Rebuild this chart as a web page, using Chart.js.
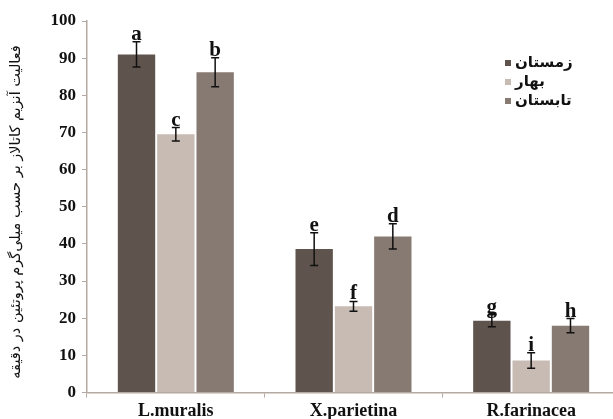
<!DOCTYPE html>
<html>
<head>
<meta charset="utf-8">
<script src="https://cdn.jsdelivr.net/npm/chart.js@4.4.1/dist/chart.umd.min.js"></script>
<style>
  html, body { margin: 0; padding: 0; background: #fff; overflow: hidden; }
  #wrap { width: 620px; height: 419px; position: relative; }
</style>
</head>
<body>
<div id="wrap"><canvas id="c"></canvas></div>
<script>
// species (x axis)
var species = ['L.muralis', 'X.parietina', 'R.farinacea'];
// seasons (legend)
var seasons = ['زمستان', 'بهار', 'تابستان'];
// catalase activity per season
var winter = [91, 38.6, 19.3];
var spring = [69.5, 23.2, 8.6];
var summer = [86.2, 42, 18];
// error bars (+/-)
var errWinter = [3.4, 4.4, 1.6];
var errSpring = [1.8, 1.3, 2.1];
var errSummer = [3.9, 3.4, 1.9];
// significance letters
var lettersWinter = ['a', 'e', 'g'];
var lettersSpring = ['c', 'f', 'i'];
var lettersSummer = ['b', 'd', 'h'];
var yTicks = [0, 10, 20, 30, 40, 50, 60, 70, 80, 90, 100];
var yTitle = 'فعالیت آنزیم کاتالاز بر حسب میلی‌گرم پروتئین در دقیقه';

var colors = ['#5e534d', '#c7bbb4', '#877a72'];
var axisColor = '#b5a9a1';
var errs = [errWinter, errSpring, errSummer];
var letters = [lettersWinter, lettersSpring, lettersSummer];

var extras = {
  id: 'extras',
  afterDatasetsDraw: function(chart) {
    var ctx = chart.ctx;
    var y = chart.scales.y;
    ctx.save();
    chart.data.datasets.forEach(function(ds, i) {
      var meta = chart.getDatasetMeta(i);
      meta.data.forEach(function(bar, j) {
        var v = ds.data[j], e = errs[i][j];
        var top = y.getPixelForValue(v + e), bot = y.getPixelForValue(v - e);
        ctx.strokeStyle = '#111';
        ctx.lineWidth = 1.5;
        ctx.beginPath();
        ctx.moveTo(bar.x, top); ctx.lineTo(bar.x, bot);
        ctx.moveTo(bar.x - 4, top); ctx.lineTo(bar.x + 4, top);
        ctx.moveTo(bar.x - 4, bot); ctx.lineTo(bar.x + 4, bot);
        ctx.stroke();
        ctx.fillStyle = '#111';
        ctx.font = 'bold 21px "Liberation Serif"';
        ctx.textAlign = 'center';
        ctx.textBaseline = 'alphabetic';
        ctx.fillText(letters[i][j], bar.x, top - 2);
      });
    });
    // legend
    ctx.font = 'bold 15px "DejaVu Sans"';
    ctx.textBaseline = 'middle';
    var ly = [63, 82, 101];
    seasons.forEach(function(s, i) {
      ctx.fillStyle = colors[i];
      ctx.fillRect(505, ly[i] - 3, 6, 6);
      ctx.fillStyle = '#111';
      ctx.direction = 'rtl';
      ctx.textAlign = 'right';
      var w = ctx.measureText(s).width;
      ctx.fillText(s, 515 + w, ly[i]);
    });
    // y title
    ctx.direction = 'rtl';
    ctx.translate(16, 212);
    ctx.rotate(-Math.PI / 2);
    ctx.font = '14.5px "DejaVu Sans"';
    ctx.textAlign = 'center';
    ctx.fillText(yTitle, 0, 0);
    ctx.restore();
  }
};

new Chart(document.getElementById('c'), {
  type: 'bar',
  data: {
    labels: species,
    datasets: [
      { label: seasons[0], data: winter, backgroundColor: colors[0] },
      { label: seasons[1], data: spring, backgroundColor: colors[1] },
      { label: seasons[2], data: summer, backgroundColor: colors[2] }
    ]
  },
  options: {
    responsive: true,
    maintainAspectRatio: false,
    animation: false,
    layout: { padding: { top: 21, left: 0, right: 0, bottom: 0 } },
    datasets: { bar: { categoryPercentage: 0.664, barPercentage: 0.95 } },
    plugins: { legend: { display: false }, tooltip: { enabled: false } },
    scales: {
      x: {
        grid: { drawOnChartArea: false, color: axisColor, tickLength: 5, offset: true },
        border: { color: axisColor, width: 1.5 },
        ticks: { color: '#111', font: { family: 'Liberation Serif', size: 18, weight: 'bold' }, padding: 3 },
        afterFit: function(s) { s.height = 26.5; }
      },
      y: {
        min: 0, max: 100,
        afterBuildTicks: function(s) { s.ticks = yTicks.map(function(v) { return { value: v }; }); },
        grid: { drawOnChartArea: false, color: axisColor, tickLength: 5 },
        border: { color: axisColor, width: 1.5 },
        ticks: { color: '#111', font: { family: 'Liberation Serif', size: 17, weight: 'bold' }, padding: 6 },
        afterFit: function(s) { s.width = 87; }
      }
    }
  },
  plugins: [extras]
});
</script>
</body>
</html>
